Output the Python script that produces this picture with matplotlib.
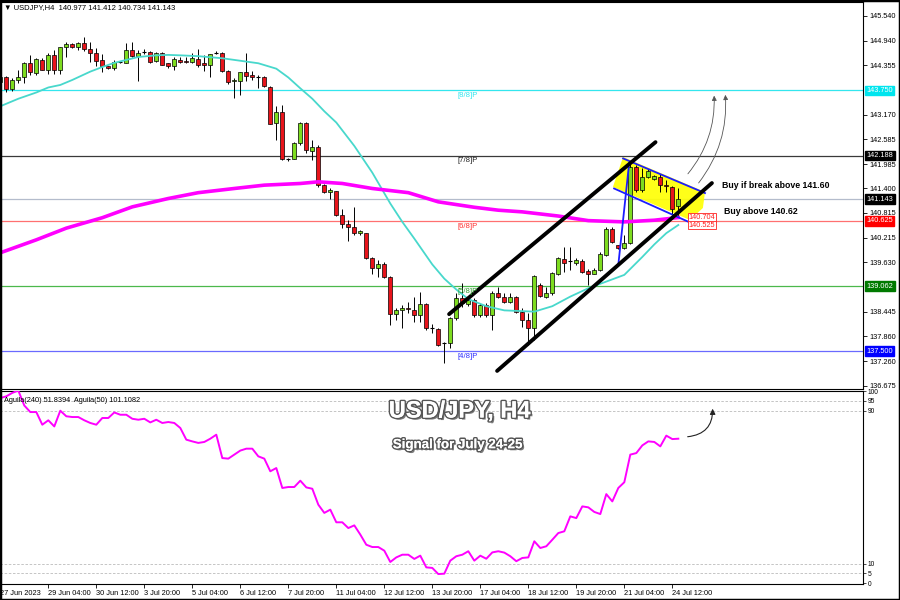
import matplotlib
matplotlib.use("Agg")
import matplotlib.pyplot as plt
import matplotlib.patheffects as pe
from matplotlib.patches import Polygon, FancyArrowPatch, Rectangle

plt.rcParams['font.family'] = ['Liberation Sans', 'DejaVu Sans']

# H4 candles, bar 0 = first bar on the left (27 Jun 2023)
opens = [
    143.96, 144.08, 143.78, 143.99, 144.08, 144.40, 144.16, 144.49, 144.25, 144.59,
    144.25, 144.78, 144.85, 144.78, 144.88, 144.73, 144.64, 144.48, 144.33, 144.28,
    144.44, 144.41, 144.72, 144.57, 144.68, 144.68, 144.46, 144.65, 144.40, 144.33,
    144.49, 144.46, 144.44, 144.51, 144.40, 144.36, 144.64, 144.65, 144.22, 143.97,
    143.97, 144.20, 144.12, 144.08, 144.08, 143.84, 142.96, 143.24, 142.10, 142.10,
    142.48, 142.98, 142.31, 142.40, 141.48, 141.32, 141.35, 140.77, 140.55, 140.47,
    140.33, 140.34, 139.73, 139.49, 139.59, 139.27, 138.39, 138.49, 138.53, 138.50,
    138.37, 138.63, 138.05, 138.03, 137.69, 137.69, 138.29, 138.77, 138.63, 138.73,
    138.37, 138.61, 138.37, 138.90, 138.79, 138.69, 138.81, 138.45, 138.25, 138.05,
    139.09, 138.81, 138.89, 139.35, 139.70, 139.66, 139.61, 139.67, 139.43, 139.35,
    139.45, 139.81, 140.44, 140.05, 139.97, 140.09, 141.91, 141.36, 141.67, 141.62,
    141.68, 141.48, 141.43, 140.977]
highs = [
    144.12, 144.10, 144.04, 144.24, 144.44, 144.60, 144.53, 144.52, 144.64, 144.72,
    144.80, 144.91, 144.88, 144.91, 145.04, 144.91, 144.76, 144.62, 144.33, 144.48,
    144.46, 144.88, 144.92, 144.72, 144.73, 144.70, 144.68, 144.68, 144.41, 144.54,
    144.54, 144.56, 144.64, 144.73, 144.60, 144.62, 144.70, 144.68, 144.24, 144.04,
    144.20, 144.64, 144.22, 144.12, 144.10, 143.85, 143.38, 143.40, 142.12, 142.52,
    143.00, 143.00, 142.56, 142.44, 141.50, 141.40, 141.35, 140.92, 140.64, 140.95,
    140.41, 140.34, 139.75, 139.69, 139.65, 139.30, 138.53, 138.61, 138.67, 138.81,
    138.93, 138.66, 138.15, 138.05, 137.73, 138.33, 138.89, 139.14, 138.81, 138.77,
    138.66, 138.65, 138.94, 139.05, 138.89, 138.90, 138.82, 138.53, 138.41, 139.33,
    139.13, 139.05, 139.41, 139.75, 140.00, 140.00, 139.73, 139.70, 139.46, 139.49,
    139.89, 140.47, 140.48, 140.05, 140.29, 142.00, 141.96, 141.88, 141.86, 141.72,
    141.75, 141.60, 141.46, 141.412]
lows = [
    143.90, 143.72, 143.74, 143.92, 143.92, 144.12, 144.12, 144.24, 144.14, 144.14,
    144.14, 144.56, 144.76, 144.72, 144.70, 144.44, 144.33, 144.20, 144.26, 144.24,
    144.41, 144.40, 144.56, 143.98, 144.62, 144.40, 144.44, 144.36, 144.28, 144.25,
    144.41, 144.40, 144.40, 144.30, 144.22, 144.08, 144.62, 144.20, 143.90, 143.56,
    143.64, 143.98, 144.00, 143.80, 143.82, 142.94, 142.56, 142.08, 142.07, 142.10,
    142.45, 142.24, 142.08, 141.44, 141.28, 141.15, 140.73, 140.45, 140.15, 140.29,
    140.29, 139.70, 139.35, 139.29, 139.25, 138.13, 138.25, 138.05, 138.41, 138.21,
    138.21, 138.01, 137.93, 137.63, 137.21, 137.57, 138.25, 138.57, 138.58, 138.33,
    138.33, 138.33, 138.01, 138.77, 138.65, 138.65, 138.41, 138.09, 137.65, 137.77,
    138.81, 138.77, 138.85, 139.33, 139.40, 139.45, 139.57, 139.38, 139.09, 139.35,
    139.43, 139.78, 140.10, 139.96, 139.94, 140.07, 141.32, 141.32, 141.64, 141.60,
    141.32, 141.32, 140.80, 140.734]
closes = [
    144.08, 143.78, 143.99, 144.08, 144.40, 144.18, 144.51, 144.25, 144.59, 144.25,
    144.80, 144.85, 144.80, 144.88, 144.73, 144.64, 144.45, 144.33, 144.28, 144.44,
    144.45, 144.72, 144.57, 144.65, 144.67, 144.44, 144.65, 144.37, 144.33, 144.51,
    144.44, 144.44, 144.53, 144.36, 144.36, 144.62, 144.65, 144.22, 143.96, 144.01,
    144.20, 144.10, 144.08, 144.07, 143.85, 142.95, 143.24, 142.10, 142.11, 142.48,
    142.98, 142.32, 142.40, 141.48, 141.32, 141.36, 140.77, 140.55, 140.47, 140.33,
    140.37, 139.73, 139.49, 139.59, 139.27, 138.39, 138.50, 138.53, 138.51, 138.37,
    138.63, 138.05, 138.04, 137.65, 137.70, 138.29, 138.77, 138.65, 138.73, 138.37,
    138.61, 138.37, 138.90, 138.79, 138.69, 138.81, 138.45, 138.25, 138.05, 139.30,
    138.82, 138.90, 139.37, 139.73, 139.62, 139.66, 139.69, 139.41, 139.35, 139.45,
    139.83, 140.44, 140.13, 139.97, 140.10, 141.92, 141.36, 141.67, 141.83, 141.70,
    141.48, 141.46, 140.90, 141.143]

# moving averages at some bars
fast_ma_bars = [0, 3, 6, 8, 10, 12, 15, 17, 19, 21, 23, 26, 28, 30, 33, 37, 39, 41, 43, 46,
                48, 50, 52, 54, 56, 59, 62, 65, 67, 69, 72, 74, 76, 78, 81, 84, 89, 92, 95,
                98, 101, 104, 107, 109, 111, 113]
fast_ma = [143.37, 143.55, 143.70, 143.82, 143.88, 144.00, 144.20, 144.31, 144.41, 144.48,
           144.55, 144.59, 144.60, 144.59, 144.57, 144.52, 144.48, 144.44, 144.40, 144.27,
           144.06, 143.80, 143.55, 143.25, 142.98, 142.42, 141.78, 141.04, 140.60, 140.20,
           139.58, 139.24, 138.98, 138.75, 138.58, 138.48, 138.45, 138.58, 138.81, 139.01,
           139.17, 139.33, 139.76, 140.06, 140.33, 140.525]
slow_ma_bars = [0, 6, 11, 17, 22, 28, 33, 39, 44, 50, 53, 57, 62, 68, 73, 79, 83, 87, 93,
                98, 104, 109, 113]
slow_ma = [139.86, 140.17, 140.45, 140.70, 140.96, 141.16, 141.30, 141.40, 141.48, 141.52,
           141.56, 141.52, 141.40, 141.30, 141.08, 140.95, 140.88, 140.84, 140.74, 140.63,
           140.60, 140.64, 140.704]

# Aguila oscillator, one value per bar
aguila = [
    96.5, 97.4, 99.2, 100.4, 92.6, 89.2, 89.2, 82.6, 84.9, 81.7,
    89.9, 87.0, 86.6, 86.6, 84.9, 83.5, 82.6, 86.1, 86.1, 89.0,
    87.8, 87.8, 85.7, 85.2, 85.7, 83.8, 85.2, 83.5, 84.0, 83.5,
    80.9, 74.8, 73.9, 73.1, 73.6, 75.3, 77.4, 65.2, 64.9, 67.0,
    69.1, 70.1, 70.1, 66.1, 64.9, 58.3, 60.0, 49.6, 50.1, 50.1,
    53.4, 49.9, 49.2, 40.9, 36.6, 38.3, 31.7, 31.7, 28.7, 30.1,
    25.3, 20.0, 18.8, 18.8, 16.9, 11.0, 13.4, 14.8, 14.8, 12.6,
    14.3, 8.2, 7.9, 4.7, 4.9, 11.7, 14.0, 14.8, 16.6, 11.7,
    14.3, 12.7, 16.0, 16.6, 15.9, 14.0, 11.4, 13.1, 13.4, 21.8,
    18.3, 19.2, 22.6, 26.1, 27.0, 34.8, 33.9, 40.0, 39.5, 37.1,
    36.0, 46.4, 42.6, 49.6, 52.6, 67.0, 67.8, 71.8, 73.9, 73.6,
    71.3, 76.9, 75.1, 75.3]

tick_bars = list(range(0, 113, 8))
tick_labels = ['27 Jun 2023', '29 Jun 04:00', '30 Jun 12:00', '3 Jul 20:00', '5 Jul 04:00',
               '6 Jul 12:00', '7 Jul 20:00', '11 Jul 04:00', '12 Jul 12:00', '13 Jul 20:00',
               '17 Jul 04:00', '18 Jul 12:00', '19 Jul 20:00', '21 Jul 04:00', '24 Jul 12:00']
price_ticks = [145.540, 144.940, 144.355, 143.170, 142.585, 141.985, 141.400, 140.815,
               140.215, 139.630, 138.445, 137.860, 137.260, 136.675]

# Murrey levels and current price line
level_prices = [143.750, 142.188, 141.143, 140.625, 139.062, 137.500]
level_names = ['[8/8]P', '[7/8]P', '', '[6/8]P', '[5/8]P', '[4/8]P']
level_colors = ['#33e6ee', '#3a3a3a', '#b4bccc', '#ff7070', '#4cb84c', '#6a6aff']
level_text_colors = ['#33e6ee', '#222222', '', '#ff3030', '#2e9e2e', '#3030ff']
level_box_colors = ['#00e5ee', '#000000', '#000000', '#ff0000', '#007a00', '#0000ff']

# drawn objects, (bars, prices)
upper_channel = ([74.8, 109.2], [138.39, 142.51])
lower_channel = ([82.8, 118.6], [137.03, 141.53])
flag_top = ([103.8, 117.45], [142.12, 141.29])
flag_bottom = ([102.3, 115.8], [141.40, 140.53])
flag_pole = ([103.0, 104.8], [139.57, 142.00])
flag_fill = ([103.8, 117.45, 117.1, 114.95, 102.1], [142.155, 141.316, 140.933, 140.645, 141.436])
target_arrows = [((114.3, 141.70), (118.95, 143.69)), ((116.1, 141.48), (120.8, 143.71))]
osc_arrow = ((114.1, 76.2), (118.7, 92.4))

bull_color = '#7ddc1f'
bear_color = '#e8141b'
fs = 5.3  # terminal-size text


def draw_candles(ax):
    """ candles: black wicks, coloured bodies with black outline """
    for i in range(len(opens)):
        o, h, l, c = opens[i], highs[i], lows[i], closes[i]
        ax.vlines(i, l, h, color='black', lw=0.7, zorder=3)
        if abs(c - o) < 0.015:
            ax.hlines(o, i - 0.32, i + 0.32, color='black', lw=0.8, zorder=4)
        else:
            col = bull_color if c > o else bear_color
            ax.bar(i, c - o, bottom=o, width=0.62, color=col, edgecolor='black',
                   linewidth=0.5, zorder=4)


fig = plt.figure(figsize=(9, 6), dpi=100)
ax = fig.add_axes([0.0, 0.3517, 0.9589, 0.645])
ax2 = fig.add_axes([0.0, 0.0267, 0.9589, 0.3217])

xlim = (-0.05, -0.05 + 863 / 6)

# ---- main chart
ax.set_xlim(*xlim)
ax.set_ylim(136.597, 145.868)
for p, col in zip(level_prices, level_colors):
    ax.axhline(p, color=col, lw=0.9, zorder=1)
draw_candles(ax)
ax.plot(fast_ma_bars, fast_ma, color='#48d8cc', lw=1.3, zorder=5)
ax.plot(slow_ma_bars, slow_ma, color='#ff00ff', lw=2.6, zorder=5)

ax.add_patch(Polygon(list(zip(*flag_fill)), closed=True, fc='#ffff00', ec='none', alpha=0.9, zorder=2))
for line in (flag_top, flag_bottom, flag_pole):
    ax.plot(line[0], line[1], color='#1c1cff', lw=1.3, zorder=6)
for line in (upper_channel, lower_channel):
    ax.plot(line[0], line[1], color='black', lw=2.8, solid_capstyle='round', zorder=7)
for start, end in target_arrows:
    ax.add_patch(FancyArrowPatch(start, end, connectionstyle='arc3,rad=0.2', arrowstyle='-|>',
                                 mutation_scale=7, color='#555555', lw=0.6, zorder=6))

for p, name, tc in zip(level_prices, level_names, level_text_colors):
    if name:
        ax.text(76.2, p - 0.04, name, color=tc, fontsize=5.6, va='top', zorder=8)

ax.text(120.2, 141.48, 'Buy if break above 141.60', fontsize=6.3, fontweight='bold',
        va='center', zorder=8)
ax.text(120.6, 140.86, 'Buy above 140.62', fontsize=6.3, fontweight='bold',
        va='center', zorder=8)
for val in (140.704, 140.525):
    ax.text(114.7, val, f'{val:.3f}', color='#ff2020', fontsize=fs, va='center',
            zorder=9, bbox=dict(boxstyle='square,pad=0.1', fc='white', ec='#ff2020', lw=0.6))

ax.yaxis.tick_right()
ax.set_yticks(price_ticks)
ax.set_yticklabels([f'{p:.3f}' for p in price_ticks], fontsize=fs)
ax.tick_params(axis='y', length=3, width=0.6, pad=1.5)
ax.set_xticks([])
for p, bc in zip(level_prices, level_box_colors):
    ax.text(1.004, p, f'{p:.3f}', transform=ax.get_yaxis_transform(), color='white',
            fontsize=fs, va='center', ha='left', zorder=9, clip_on=False,
            bbox=dict(boxstyle='square,pad=0.18', fc=bc, ec=bc))
for s in ax.spines.values():
    s.set_linewidth(0.8)

fig.text(0.004, 0.988, '\u25bc USDJPY,H4  140.977 141.412 140.734 141.143', fontsize=5.5,
         va='center')

# ---- oscillator panel
ax2.set_xlim(*xlim)
ax2.set_ylim(-0.47, 100.2)
ax2.plot(range(len(aguila)), aguila, color='#ff00ff', lw=1.4, zorder=3)
for lvl in (95, 90, 10, 5):
    ax2.axhline(lvl, color='#bbbbbb', lw=0.6, ls=(0, (3, 2)), zorder=1)
ax2.yaxis.tick_right()
ax2.set_yticks([100, 95, 90, 10, 5, 0])
ax2.set_yticklabels(['100', '95', '90', '10', '5', '0'], fontsize=4.8)
ax2.tick_params(axis='y', length=2, width=0.5, pad=1.5)
ax2.set_xticks(tick_bars)
ax2.set_xticklabels(tick_labels, fontsize=fs, ha='left')
ax2.tick_params(axis='x', length=3, width=0.6, pad=1.5)
for s in ax2.spines.values():
    s.set_linewidth(0.8)
ax2.text(0.005, 0.97, 'Aguila(240) 51.8394  Aguila(50) 101.1082', transform=ax2.transAxes,
         fontsize=fs, va='top')
ax2.add_patch(FancyArrowPatch(osc_arrow[0], osc_arrow[1], connectionstyle='arc3,rad=0.5',
                              arrowstyle='-|>', mutation_scale=8, color='#222222', lw=0.8))

shadow = [pe.withSimplePatchShadow(offset=(1.5, -1.5), shadow_rgbFace='#444444', alpha=0.7),
          pe.withStroke(linewidth=2.2, foreground='#555555'), pe.Normal()]
fig.text(0.511, 0.315, 'USD/JPY, H4', fontsize=17, fontweight='bold',
         color='white', ha='center', va='center', path_effects=shadow)
fig.text(0.509, 0.258, 'Signal for July 24-25', fontsize=9.6, fontweight='bold',
         color='white', ha='center', va='center', path_effects=shadow)

fig.patches.append(Rectangle((0, 0), 1, 1, transform=fig.transFigure, fill=False,
                             ec='black', lw=2.5))
fig.savefig('out.png', dpi=100)
